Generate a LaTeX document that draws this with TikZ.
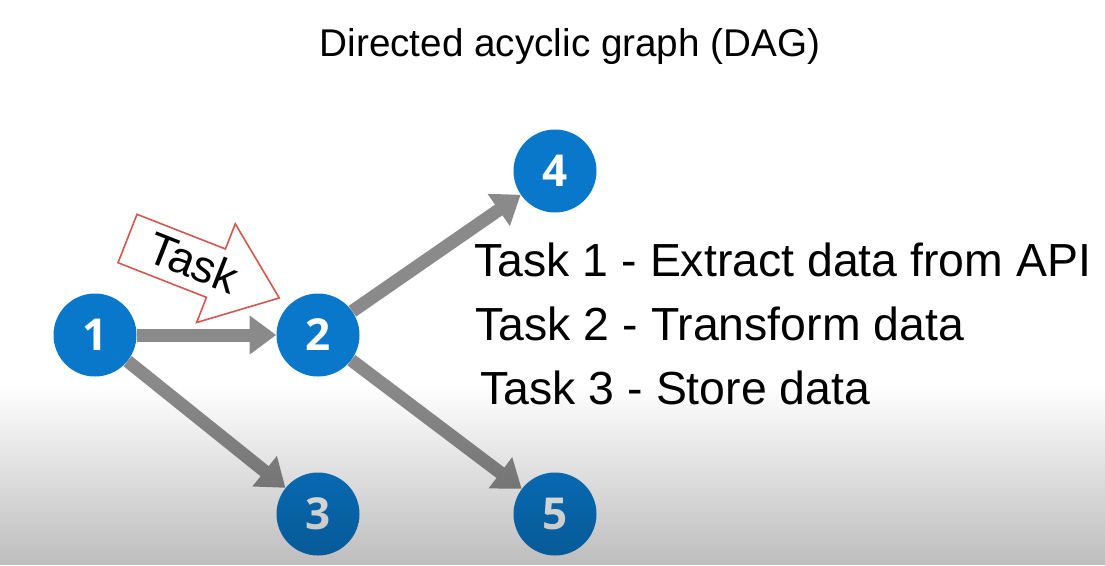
\documentclass[tikz,border=0pt]{standalone}
\usepackage{fontspec}
\setmainfont{Liberation Sans}
\newfontfamily\digitfont{Open Sans}
\usetikzlibrary{arrows.meta,fadings}
\definecolor{dagblue}{RGB}{10,120,202}
\definecolor{edgegray}{RGB}{138,138,138}
\definecolor{taskred}{RGB}{214,86,80}
\begin{document}
\begin{tikzpicture}[x=0.75pt, y=-0.75pt,
    vertex/.style={circle, fill=dagblue, minimum size=62.25pt, inner sep=0pt,
        text=white, font=\digitfont\bfseries\fontsize{33pt}{33pt}\selectfont},
    edge/.style={draw=edgegray, line width=9.75pt,
        -{Triangle[length=20pt, width=28pt]}},
    tasktext/.style={anchor=base west, font=\fontsize{34.8pt}{40pt}\selectfont}]
    \useasboundingbox (0,0) rectangle (1105,565);
    \fill[white] (0,0) rectangle (1105,565);
    \node[anchor=base, font=\fontsize{29pt}{34pt}\selectfont] (title) at (570,56) {Directed acyclic graph (DAG)};
    \node[vertex] (n1) at (95,335) {1};
    \node[vertex] (n2) at (318,335) {2};
    \node[vertex] (n3) at (318,514) {3};
    \node[vertex] (n4) at (555,171) {4};
    \node[vertex] (n5) at (555,514) {5};
    \draw[edge] (n1) -- (n2);
    \draw[edge] (n1) -- (n3);
    \draw[edge] (n2) -- (n4);
    \draw[edge] (n2) -- (n5);
    \begin{scope}[shift={(127.5,238.5)}, rotate=-21.4]
        \draw[taskred, line width=1.2pt, fill=white]
            (0,-26) -- (95,-26) -- (95,-53) -- (163,0) -- (95,53) -- (95,26) -- (0,26) -- cycle;
        \node[rotate=-21.4, font=\fontsize{34pt}{34pt}\selectfont] (task) at (70,-2) {Task};
    \end{scope}
    \node[tasktext] (t1) at (470,276) {Task 1 - Extract data from API};
    \node[tasktext] (t2) at (471,340) {Task 2 - Transform data};
    \node[tasktext] (t3) at (476,404) {Task 3 - Store data};
    \fill[black, opacity=0.26, path fading=north] (0,385) rectangle (1105,565);
\end{tikzpicture}
\end{document}
